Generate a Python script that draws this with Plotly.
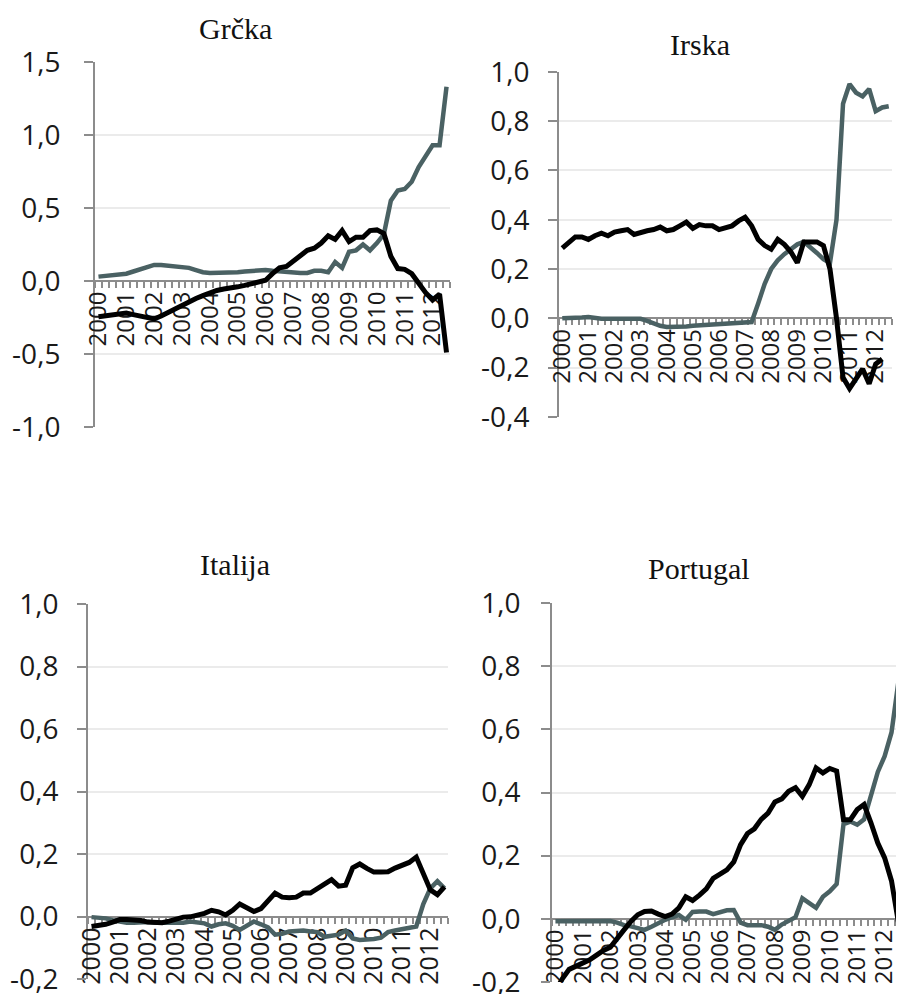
import plotly.graph_objects as go

# ---------------- data ----------------
quarters = [f"{y}Q{q}" for y in range(2000, 2013) for q in range(1, 5)][:51]
year_labels = [str(y) for y in range(2000, 2013)]

gr_teal = [0.03, 0.035, 0.04, 0.045, 0.05, 0.065, 0.08, 0.095, 0.11, 0.11, 0.105, 0.10, 0.10,
           0.09, 0.075, 0.06, 0.055, 0.055, 0.055, 0.055, 0.06, 0.065, 0.07, 0.075, 0.075, 0.07,
           0.065, 0.06, 0.06, 0.055, 0.055, 0.07, 0.07, 0.06, 0.13, 0.09, 0.20, 0.21, 0.25, 0.21,
           0.26, 0.32, 0.55, 0.62, 0.63, 0.68, 0.78, 0.86, 0.93, 0.93, 1.33]
gr_black = [-0.245, -0.24, -0.235, -0.23, -0.22, -0.23, -0.24, -0.255, -0.26, -0.24, -0.215,
            -0.19, -0.165, -0.14, -0.12, -0.10, -0.08, -0.065, -0.055, -0.05, -0.04, -0.03, -0.02,
            -0.01, 0.005, 0.05, 0.09, 0.10, 0.135, 0.17, 0.21, 0.225, 0.26, 0.31, 0.285, 0.345,
            0.27, 0.30, 0.30, 0.345, 0.35, 0.325, 0.17, 0.085, 0.08, 0.05, -0.02, -0.08, -0.13,
            -0.09, -0.49]

ir_teal = [0.0, 0.0, 0.002, 0.003, 0.005, 0.0, -0.002, -0.002, -0.002, -0.002, -0.002, -0.002,
           -0.002, -0.01, -0.02, -0.03, -0.035, -0.035, -0.035, -0.033, -0.03, -0.028, -0.025,
           -0.025, -0.022, -0.02, -0.017, -0.015, -0.015, -0.015, 0.06, 0.14, 0.20, 0.235, 0.26,
           0.28, 0.30, 0.31, 0.29, 0.265, 0.24, 0.225, 0.40, 0.87, 0.95, 0.915, 0.90, 0.93, 0.84,
           0.855, 0.86]
ir_black = [0.285, 0.305, 0.33, 0.33, 0.32, 0.335, 0.345, 0.335, 0.35, 0.355, 0.36, 0.34, 0.35,
            0.355, 0.36, 0.37, 0.355, 0.36, 0.375, 0.39, 0.365, 0.38, 0.375, 0.375, 0.36, 0.365,
            0.375, 0.395, 0.41, 0.375, 0.32, 0.295, 0.28, 0.32, 0.30, 0.27, 0.225, 0.31, 0.31,
            0.31, 0.295, 0.20, 0.0, -0.24, -0.285, -0.245, -0.205, -0.265, -0.185, -0.165, None]

it_teal = [-0.002, -0.004, -0.006, -0.012, -0.016, -0.02, -0.02, -0.018, -0.018, -0.02, -0.02,
           -0.02, -0.022, -0.02, -0.016, -0.018, -0.022, -0.032, -0.025, -0.022, -0.03, -0.043,
           -0.03, -0.016, -0.025, -0.035, -0.058, -0.055, -0.048, -0.045, -0.045, -0.048, -0.05,
           -0.065, -0.062, -0.058, -0.045, -0.07, -0.075, -0.075, -0.072, -0.068, -0.05, -0.045,
           -0.04, -0.035, -0.032, 0.04, 0.09, 0.113, 0.09]
it_black = [-0.032, -0.03, -0.025, -0.018, -0.01, -0.01, -0.01, -0.013, -0.018, -0.02, -0.02,
            -0.015, -0.008, -0.002, -0.001, 0.003, 0.01, 0.02, 0.015, 0.005, 0.02, 0.04, 0.028,
            0.016, 0.025, 0.05, 0.075, 0.062, 0.06, 0.062, 0.075, 0.075, 0.09, 0.107, 0.118, 0.097,
            0.10, 0.156, 0.168, 0.154, 0.142, 0.142, 0.143, 0.155, 0.165, 0.173, 0.19, 0.135,
            0.085, 0.07, 0.095]

pt_teal = [-0.008, -0.008, -0.007, -0.007, -0.007, -0.007, -0.007, -0.007, -0.007, -0.012, -0.02,
           -0.024, -0.03, -0.035, -0.025, -0.012, -0.003, 0.005, 0.012, -0.003, 0.022, 0.023,
           0.023, 0.015, 0.022, 0.027, 0.028, -0.012, -0.02, -0.02, -0.02, -0.025, -0.035, -0.018,
           -0.008, 0.005, 0.065, 0.05, 0.035, 0.07, 0.087, 0.11, 0.30, 0.308, 0.298, 0.315, 0.39,
           0.465, 0.515, 0.59, 0.75]
pt_black = [-0.23, -0.19, -0.16, -0.15, -0.14, -0.13, -0.115, -0.10, -0.09, -0.065, -0.035,
            -0.008, 0.013, 0.023, 0.025, 0.015, 0.007, 0.015, 0.035, 0.07, 0.058, 0.075, 0.095,
            0.128, 0.14, 0.155, 0.18, 0.235, 0.27, 0.285, 0.315, 0.335, 0.37, 0.38, 0.404, 0.415,
            0.388, 0.425, 0.478, 0.462, 0.476, 0.468, 0.314, 0.314, 0.346, 0.362, 0.304, 0.24,
            0.193, 0.12, -0.01]

titles = ["Grčka", "Irska", "Italija", "Portugal"]
teal_series = [gr_teal, ir_teal, it_teal, pt_teal]
black_series = [gr_black, ir_black, it_black, pt_black]

# ---------------- layout helpers ----------------
OFF = 8                      # page body margin
W, H = 904 - OFF, 994 - OFF  # figure size so the page fits the window
TEAL = "#4a6163"
AXIS = "#8c8c8c"
GRID = "#ebebeb"

# positions given in page pixels
panels = [
    dict(x0=95, x1=450, ytop=62, ybot=427, yr=(-1.0, 1.5), ydt=0.5, xr=(-0.5, 50.5),
         yfs=28, xfs=24, stand=18, tx=235, ty=28),
    dict(x0=559, x1=892, ytop=71.7, ybot=417, yr=(-0.4, 1.0), ydt=0.2, xr=(-0.5, 50.5),
         yfs=28, xfs=24, stand=13, tx=700, ty=45),
    dict(x0=88, x1=448, ytop=604, ybot=979, yr=(-0.2, 1.0), ydt=0.2, xr=(-0.5, 50.5),
         yfs=28, xfs=25, stand=13, tx=235, ty=564),
    dict(x0=552, x1=897, ytop=603, ybot=982, yr=(-0.2, 1.0), ydt=0.2, xr=(-0.5, 49.8),
         yfs=28, xfs=24, stand=15, tx=699, ty=568),
]


def px(v):
    return (v - OFF) / W


def py(v):
    return 1 - (v - OFF) / H


x = list(range(len(quarters)))
fig = go.Figure()
layout = dict(width=W, height=H, margin=dict(l=0, r=0, t=0, b=0, pad=0),
              paper_bgcolor="white", plot_bgcolor="white", showlegend=False,
              annotations=[])

for k, p in enumerate(panels, start=1):
    xa = "x" if k == 1 else f"x{k}"
    ya = "y" if k == 1 else f"y{k}"
    fig.add_trace(go.Scatter(x=x, y=teal_series[k - 1], mode="lines",
                             line=dict(color=TEAL, width=4.5), xaxis=xa, yaxis=ya))
    fig.add_trace(go.Scatter(x=x, y=black_series[k - 1], mode="lines",
                             line=dict(color="black", width=5), xaxis=xa, yaxis=ya,
                             connectgaps=False))
    xd = [px(p["x0"]), min(1.0, px(p["x1"]))]
    yd = [max(0.0, py(p["ybot"])), py(p["ytop"])]
    r0, r1 = p["yr"]
    pos = yd[0] + (0 - r0) / (r1 - r0) * (yd[1] - yd[0])
    n = int(round((r1 - r0) / p["ydt"]))
    yvals = [round(r0 + i * p["ydt"], 2) for i in range(n + 1)]
    ytext = [f"{v:.1f}".replace(".", ",") for v in yvals]
    layout["xaxis" if k == 1 else f"xaxis{k}"] = dict(
        domain=xd, range=list(p["xr"]), anchor="free", position=pos,
        showline=True, linecolor=AXIS, linewidth=2, showgrid=False, zeroline=False,
        tickmode="array", tickvals=[i * 4 for i in range(len(year_labels))],
        ticktext=year_labels, tickangle=-90, ticks="",
        minor=dict(ticks="outside", tickmode="array",
                   tickvals=[i - 0.5 for i in range(len(quarters) + 1)],
                   ticklen=6, tickwidth=1.5, tickcolor=AXIS, showgrid=False),
        tickfont=dict(family="Open Sans", size=p["xfs"], color="#1a1a1a"),
        ticklabeloverflow="allow",
        layer="below traces", fixedrange=True, automargin=False)
    layout["yaxis" if k == 1 else f"yaxis{k}"] = dict(
        domain=yd, range=[r0 - 1e-6, r1 + 1e-6], anchor=xa,
        showline=True, linecolor=AXIS, linewidth=2, zeroline=False,
        showgrid=True, gridcolor=GRID, gridwidth=1.5,
        tickmode="array", tickvals=yvals, ticktext=ytext,
        ticks="outside", ticklen=9, tickwidth=1.5, tickcolor=AXIS,
        ticklabelstandoff=p["stand"], ticklabeloverflow="allow",
        tickfont=dict(family="Open Sans", size=p["yfs"], color="#1a1a1a"),
        layer="below traces", fixedrange=True, automargin=False)
    layout["annotations"].append(dict(
        text=titles[k - 1], x=px(p["tx"]), y=py(p["ty"]), xref="paper", yref="paper",
        showarrow=False, xanchor="center", yanchor="middle",
        font=dict(family="Liberation Serif", size=30, color="#111")))

fig.update_layout(**layout)
fig.write_html("out.html")
